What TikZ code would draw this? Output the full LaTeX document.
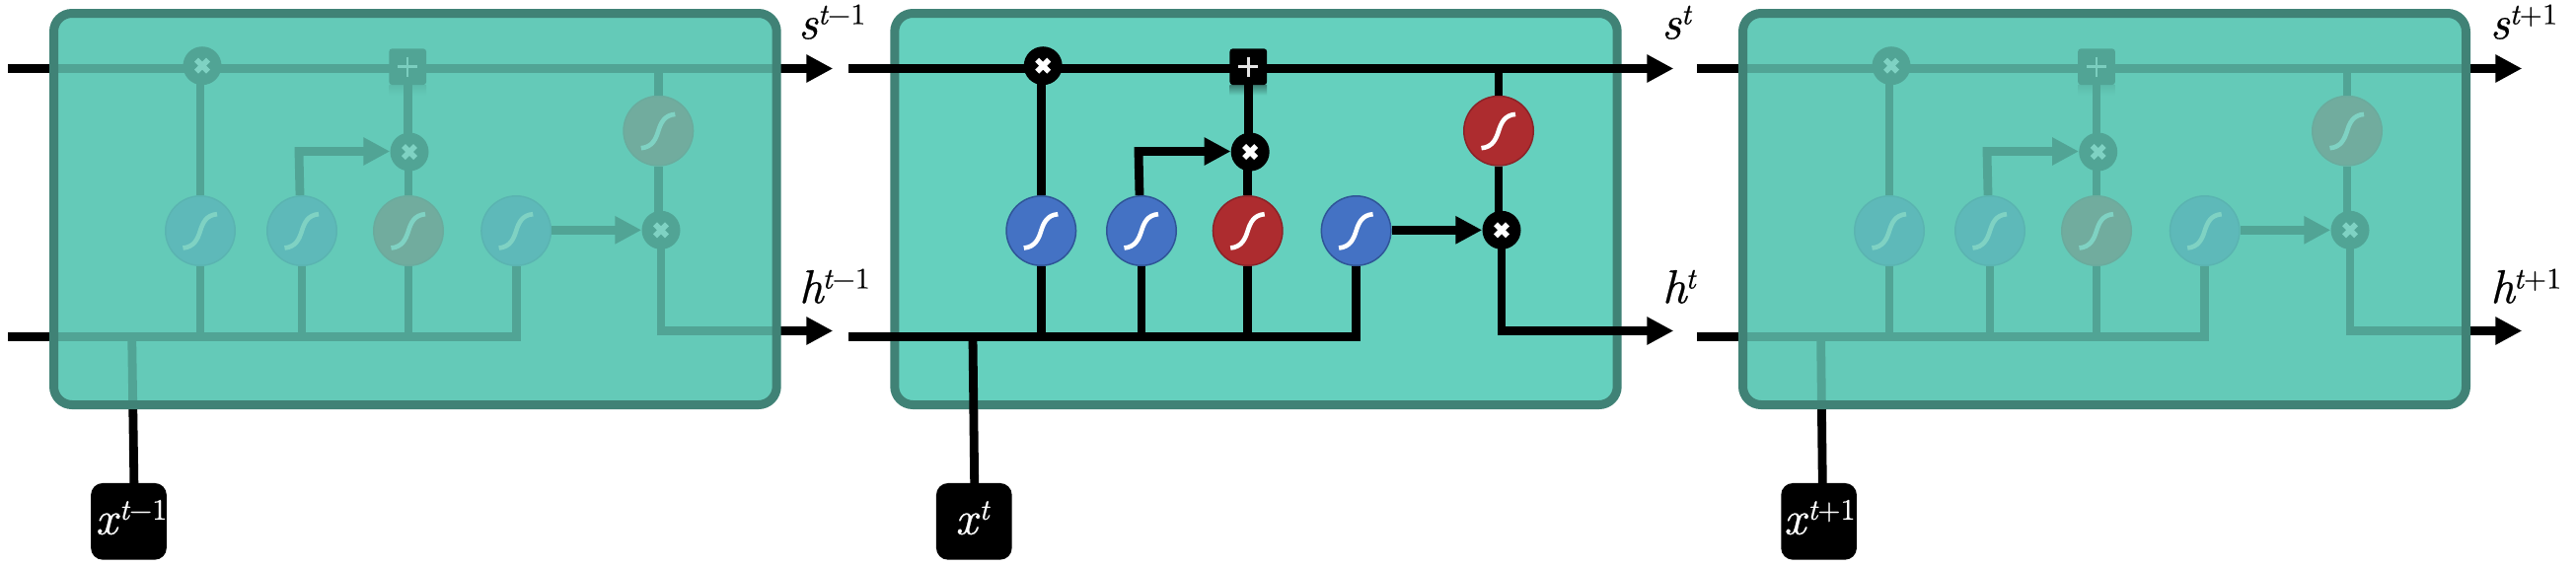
\documentclass[tikz,border=0pt]{standalone}
\usepackage{fontspec}
\newfontface\labit{lmroman10-italic}[Extension=.otf,FakeBold=0.5]
\newfontface\labup{lmroman10-regular}[Extension=.otf,FakeBold=0.3]
\usetikzlibrary{arrows.meta,calc,shapes.geometric}
\definecolor{cellfill}{HTML}{65D0BE}
\definecolor{cellline}{HTML}{408276}
\definecolor{veil}{RGB}{100,201,183}
\definecolor{gateblue}{HTML}{4472C4}
\definecolor{gatebluedk}{HTML}{2F5597}
\definecolor{gatered}{HTML}{AD2C2F}
\definecolor{gatereddk}{HTML}{8A2328}
\definecolor{shadowdk}{HTML}{3F8478}
\tikzset{
  wire/.style={draw=black,line width=8.8pt,line cap=butt,line join=miter},
  head/.style={-{Triangle[length=27pt,width=26.7pt]}},
  bluegate/.style={circle,minimum size=70.5pt,inner sep=0pt,fill=gateblue,draw=gatebluedk,line width=1.5pt},
  redgate/.style={circle,minimum size=70.5pt,inner sep=0pt,fill=gatered,draw=gatereddk,line width=1.5pt},
  multgate/.style={circle,minimum size=39pt,inner sep=0pt,fill=black},
  plusgate/.style={rectangle,minimum width=37.7pt,minimum height=36.7pt,inner sep=0pt,fill=black,rounded corners=3pt},
  plusshadow/.style={rectangle,minimum width=37.7pt,minimum height=10pt,inner sep=0pt,top color=shadowdk,bottom color=cellfill},
  inputbox/.style={rectangle,minimum width=76.7pt,minimum height=77.7pt,inner sep=0pt,fill=black,rounded corners=12pt},
  cellborder/.style={draw=cellline,line width=9pt,rounded corners=18.5pt},
  scurve/.style={draw=white,line width=4.6pt,line cap=butt},
  crossmark/.style={draw=white,line width=5.6pt,line cap=butt},
  plusmark/.style={draw=white!90!black,line width=2.5pt,line cap=butt},
  mathlabel/.style={inner sep=0pt,outer sep=0pt,anchor=base west},
}
\newcommand{\sigmark}[1]{\draw[scurve,shift={(#1.center)}] (-17.5,17.5) .. controls (-6,16.5) and (-2.5,8) .. (0,0) .. controls (2.5,-8) and (6,-16) .. (17,-16.8);}
\newcommand{\timesmark}[1]{\draw[crossmark,shift={(#1.center)}] (-6,-6) -- (6,6) (-6,6) -- (6,-6);}
\newcommand{\plusmarkat}[1]{\draw[plusmark,shift={(#1.center)}] (-10,0) -- (10,0) (0,-10) -- (0,10);}
\newcommand{\varlabel}[3]{\fontsize{48}{54}\labit #1\kern#2pt\raisebox{14.8pt}{\fontsize{30}{34}\labit #3}}
\begin{document}
\begin{tikzpicture}[x=1pt,y=-1pt]
\useasboundingbox (0,0) rectangle (2611,574);
\foreach \id/\dimmed/\bl/\br/\stx/\mxa/\ppx/\mxb/\exa/\exb/\exc/\exd/\mxc/\rtx/\tipx/\stt/\stb/\xcx/\xtx/\sxx/\hxx/\supr in {
  a/1/50/791.7/8/205/413.2/415/203/306/414/523.2/670/667.3/844.3/133.7/135.9/130.5/96.7/809.3/810/t{\labup −1},
  b/0/902.3/1643.7/860.3/1057.2/1265.3/1267.2/1055.3/1157/1264.7/1374.6/1522/1519/1696.3/986/987.7/987.3/968.3/1684.3/1685/t,
  c/1/1762/2504/1720/1917/2125/2126.7/1915/2017/2125/2234.7/2382/2379/2556.3/1845.6/1847.3/1843.6/1808/2524/2524.3/t{\labup +1}}
{
  % cell body
  \fill[cellfill,rounded corners=18.5pt] (\bl+4.5,13.5) rectangle (\br-4.5,410.5);
  \ifnum\dimmed=0
    \draw[cellborder] (\bl+4.5,13.5) rectangle (\br-4.5,410.5);
  \fi
  % gates
  \node[plusshadow] (ps-\id) at (\ppx,91.5) {};
  \node[multgate] (m1-\id) at (\mxa,66.7) {};
  \node[plusgate] (p-\id) at (\ppx,67.7) {};
  \node[multgate] (m2-\id) at (\mxb,154) {};
  \node[multgate] (m3-\id) at (\mxc,233.3) {};
  \node[bluegate] (e1-\id) at (\exa,234) {};
  \node[bluegate] (e2-\id) at (\exb,234) {};
  \node[redgate] (e3-\id) at (\exc,234) {};
  \node[bluegate] (e4-\id) at (\exd,234) {};
  \node[redgate] (rt-\id) at (\rtx,132.7) {};
  \node[inputbox] (xb-\id) at (\xcx,528.8) {};
  % rails
  \coordinate (sin-\id) at (\stx,69.5);
  \coordinate (sout-\id) at (\tipx,69.5);
  \coordinate (hin-\id) at (\stx,341.5);
  \coordinate (hout-\id) at (\tipx,335.5);
  \coordinate (stema-\id) at (\stt,341.5);
  \coordinate (stemb-\id) at (\stb,491);
  \draw[wire,head] (sin-\id) -- (sout-\id);
  \draw[wire] (hin-\id) -- (e4-\id.south |- hin-\id) -- (e4-\id.south);
  \draw[wire] (stema-\id) -- (stemb-\id);
  % verticals
  \draw[wire] (e1-\id.north |- m1-\id) -- (e1-\id.north);
  \draw[wire] (e1-\id.south) -- (e1-\id.south |- hin-\id);
  \draw[wire] (e2-\id.south) -- (e2-\id.south |- hin-\id);
  \coordinate (bend-\id) at ($(e2-\id.north |- m2-\id)+(-3,-0.5)$);
  \draw[wire,head] ([xshift=-2pt]e2-\id.north) -- (bend-\id) -- (m2-\id.west |- bend-\id);
  \draw[wire] (p-\id.center) -- (p-\id.center |- m2-\id);
  \draw[wire] (e3-\id.north |- m2-\id) -- (e3-\id.north);
  \draw[wire] (e3-\id.south) -- (e3-\id.south |- hin-\id);
  \draw[wire] (rt-\id.north |- sin-\id) -- (rt-\id.north);
  \draw[wire] (rt-\id.south) -- (rt-\id.south |- m3-\id);
  \draw[wire,head] (m3-\id.center) -- (m3-\id.center |- hout-\id) -- (hout-\id);
  \draw[wire,head] (e4-\id.east |- m3-\id) -- (m3-\id.west);
  % gate marks
  \timesmark{m1-\id}
  \timesmark{m2-\id}
  \timesmark{m3-\id}
  \plusmarkat{p-\id}
  \sigmark{e1-\id}
  \sigmark{e2-\id}
  \sigmark{e3-\id}
  \sigmark{e4-\id}
  \sigmark{rt-\id}
  % veil over inactive cells
  \ifnum\dimmed=1
    \fill[veil,fill opacity=0.82,rounded corners=18.5pt] (\bl+4.5,13.5) rectangle (\br-4.5,410.5);
    \draw[cellborder] (\bl+4.5,13.5) rectangle (\br-4.5,410.5);
  \fi
  % labels
  \node[mathlabel,text=white] (xl-\id) at (\xtx,541.7) {\varlabel{x}{2}{\supr}};
  \node[mathlabel] (sl-\id) at (\sxx,39.3) {\varlabel{s}{0}{\supr}};
  \node[mathlabel] (hl-\id) at (\hxx,307.3) {\varlabel{h}{-1}{\supr}};
}
\end{tikzpicture}
\end{document}
